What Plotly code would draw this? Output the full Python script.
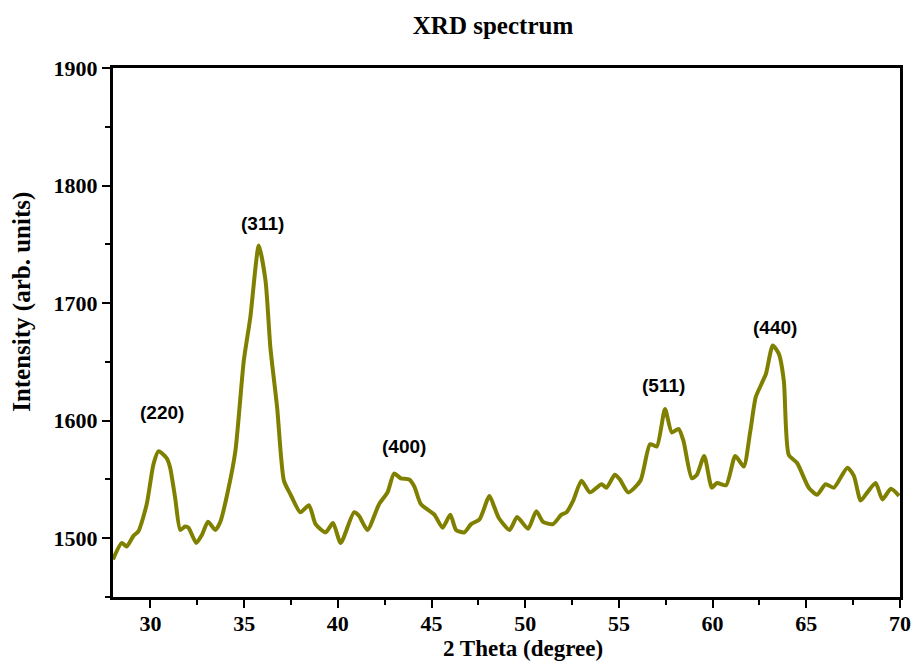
import plotly.graph_objects as go

two_theta = [28.0, 28.47, 28.73, 29.09, 29.36, 29.8, 30.16, 30.43, 30.87, 31.05, 31.32, 31.59,
             31.85, 32.03, 32.44, 32.75, 33.07, 33.46, 33.73, 34.09, 34.53, 34.98, 35.33, 35.78,
             36.14, 36.4, 36.76, 37.12, 37.48, 38.0, 38.46, 38.81, 39.35, 39.74, 40.15, 40.86,
             41.13, 41.58, 42.2, 42.65, 43.0, 43.36, 43.81, 44.08, 44.43, 45.15, 45.59, 46.0,
             46.31, 46.75, 47.11, 47.56, 48.09, 48.36, 48.6, 49.16, 49.57, 50.15, 50.59, 50.95,
             51.48, 51.93, 52.2, 52.56, 53.0, 53.45, 54.07, 54.34, 54.78, 55.05, 55.5, 56.15,
             56.66, 57.02, 57.46, 57.82, 58.18, 58.44, 58.89, 59.16, 59.55, 59.96, 60.23, 60.72,
             61.21, 61.66, 62.0, 62.3, 62.6, 62.85, 63.21, 63.53, 63.8, 64.06, 64.51, 65.13,
             65.58, 66.03, 66.47, 67.19, 67.54, 67.9, 68.26, 68.7, 69.06, 69.51, 69.95]
intensity = [1482, 1496, 1493, 1502, 1506, 1529, 1563, 1574, 1568, 1560, 1534, 1507,
             1510, 1509, 1496, 1503, 1514, 1507, 1514, 1537, 1574, 1651, 1688, 1749,
             1719, 1662, 1611, 1549, 1537, 1522, 1528, 1512, 1505, 1513, 1496, 1522,
             1519, 1507, 1529, 1539, 1555, 1551, 1550, 1544, 1529, 1520, 1509, 1520,
             1507, 1505, 1512, 1516, 1536, 1526, 1517, 1507, 1518, 1508, 1523, 1514,
             1512, 1520, 1522, 1532, 1549, 1539, 1546, 1543, 1554, 1550, 1539, 1549,
             1580, 1578, 1610, 1590, 1593, 1583, 1551, 1554, 1570, 1543, 1547, 1545,
             1570, 1561, 1590, 1620, 1631, 1640, 1664, 1657, 1634, 1571, 1564, 1543,
             1537, 1546, 1543, 1560, 1553, 1532, 1539, 1547, 1533, 1542, 1536]

peak_labels = ["(220)", "(311)", "(400)", "(511)", "(440)"]
peak_x = [30.62, 35.98, 43.52, 57.39, 63.33]
peak_y = [1607, 1768, 1578, 1630, 1679]

x_ticks = [30, 35, 40, 45, 50, 55, 60, 65, 70]
y_ticks = [1500, 1600, 1700, 1800, 1900]

serif = "Liberation Serif"

fig = go.Figure()
fig.add_trace(go.Scatter(
    x=two_theta, y=intensity, mode="lines",
    line=dict(color="#808000", width=4, shape="spline", smoothing=0.6),
    showlegend=False, hoverinfo="skip"))

for lab, px, py in zip(peak_labels, peak_x, peak_y):
    fig.add_annotation(x=px, y=py, text="<b>" + lab + "</b>", showarrow=False,
                       font=dict(family="Liberation Sans", size=19, color="black"))

# axis titles (placed as in the reference, slightly off-centre)
fig.add_annotation(xref="paper", yref="paper", x=0.521, y=-0.098, text="<b>2 Theta (degree)</b>",
                   showarrow=False, xanchor="center", yanchor="middle",
                   font=dict(family=serif, size=23, color="black"))
fig.add_annotation(xref="paper", yref="paper", x=-0.1156, y=0.558, text="<b>Intensity (arb. units)</b>",
                   showarrow=False, textangle=-90, xanchor="center", yanchor="middle",
                   font=dict(family=serif, size=25, color="black"))

fig.update_layout(
    width=913, height=666,
    margin=dict(l=113, r=13, t=68, b=69),
    paper_bgcolor="white", plot_bgcolor="white",
    title=dict(text="<b>XRD spectrum</b>", x=0.54, xanchor="center", y=0.962, yanchor="middle",
               font=dict(family=serif, size=25, color="black")),
)

axis_common = dict(
    showgrid=False, zeroline=False, showline=True, linecolor="black", linewidth=3,
    mirror=True, ticks="outside", ticklen=8, tickwidth=2, tickcolor="black",
    tickfont=dict(family=serif, size=22, color="black", weight="bold"),
    automargin=False,
)

fig.update_xaxes(
    range=[28, 70], tickvals=x_ticks, ticklabelstandoff=-3,
    minor=dict(dtick=2.5, tick0=27.5, ticks="outside", ticklen=5, tickwidth=2, tickcolor="black"),
    **axis_common)
fig.update_yaxes(
    range=[1450, 1900], tickvals=y_ticks,
    minor=dict(dtick=50, tick0=1450, ticks="outside", ticklen=5, tickwidth=2, tickcolor="black"),
    **axis_common)

fig.write_html("out.html")
